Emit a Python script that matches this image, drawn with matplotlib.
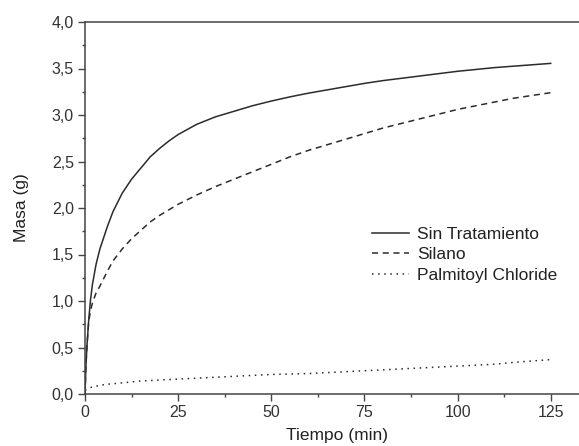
import numpy as np
import matplotlib
matplotlib.use('Agg')
import matplotlib.pyplot as plt
from matplotlib.ticker import FuncFormatter, MultipleLocator

# Data
tiempo = [0, 0.25, 0.5, 1, 1.5, 2, 3, 4, 5, 6, 7.5, 10, 12.5, 15, 17.5, 20, 22.5, 25,
          30, 35, 40, 45, 50, 55, 60, 65, 70, 75, 80, 85, 90, 95, 100, 105, 110, 115, 120, 125]
sin_tratamiento = [0.0, 0.30, 0.50, 0.80, 1.02, 1.18, 1.40, 1.56, 1.68, 1.80, 1.96, 2.16, 2.31,
                   2.43, 2.55, 2.64, 2.72, 2.79, 2.90, 2.98, 3.04, 3.10, 3.15, 3.195, 3.235, 3.27,
                   3.305, 3.34, 3.37, 3.395, 3.42, 3.445, 3.47, 3.49, 3.51, 3.525, 3.54, 3.555]
silano = [0.0, 0.30, 0.50, 0.78, 0.90, 0.98, 1.09, 1.16, 1.24, 1.32, 1.43, 1.56, 1.67, 1.76,
          1.85, 1.92, 1.98, 2.04, 2.14, 2.23, 2.31, 2.39, 2.47, 2.55, 2.62, 2.68, 2.74, 2.80,
          2.86, 2.91, 2.96, 3.01, 3.06, 3.10, 3.14, 3.18, 3.21, 3.24]
palmitoyl = [0.04, 0.045, 0.05, 0.06, 0.07, 0.075, 0.085, 0.09, 0.10, 0.105, 0.11, 0.12, 0.13,
             0.14, 0.145, 0.15, 0.155, 0.16, 0.17, 0.18, 0.19, 0.20, 0.21, 0.215, 0.22, 0.23,
             0.24, 0.25, 0.26, 0.27, 0.28, 0.29, 0.30, 0.31, 0.32, 0.34, 0.355, 0.37]

plt.rcParams['font.family'] = ['Liberation Sans', 'DejaVu Sans']

fig = plt.figure(figsize=(5.79, 4.46), dpi=100)
ax = fig.add_axes([85 / 579, 52 / 446, 503 / 579, 372 / 446])

line_col = '#2b2b2b'
ax.plot(tiempo, sin_tratamiento, color=line_col, lw=1.1, ls='-', label='Sin Tratamiento')
ax.plot(tiempo, silano, color=line_col, lw=1.1, ls=(0, (4, 3)), label='Silano')
ax.plot(tiempo, palmitoyl, color=line_col, lw=1.1, ls=(0, (1, 3)), label='Palmitoyl Chloride')

ax.set_xlim(0, 135)
ax.set_ylim(0, 4.0)
ax.xaxis.set_major_locator(MultipleLocator(25))
ax.xaxis.set_minor_locator(MultipleLocator(12.5))
ax.yaxis.set_major_locator(MultipleLocator(0.5))
ax.yaxis.set_minor_locator(MultipleLocator(0.25))
ax.yaxis.set_major_formatter(FuncFormatter(lambda v, p: '{:.1f}'.format(v).replace('.', ',')))

for s in ax.spines.values():
    s.set_color('#444444')
    s.set_linewidth(1.1)
ax.tick_params(which='major', direction='out', length=5, width=1.0, color='#444444',
               labelsize=11.5, labelcolor='#333333', pad=3)
ax.tick_params(which='minor', direction='out', length=2.5, width=1.0, color='#444444')

ax.set_xlabel('Tiempo (min)', fontsize=12.5, color='#222222', labelpad=6)
ax.set_ylabel('Masa (g)', fontsize=12.5, color='#222222', labelpad=16)

ax.legend(loc='upper left', bbox_to_anchor=(0.571, 0.45), frameon=False,
          borderpad=0, borderaxespad=0, handlelength=2.1, handletextpad=0.5,
          labelspacing=0.32, fontsize=12.5, labelcolor='#222222')

fig.savefig('out.png', dpi=100)
